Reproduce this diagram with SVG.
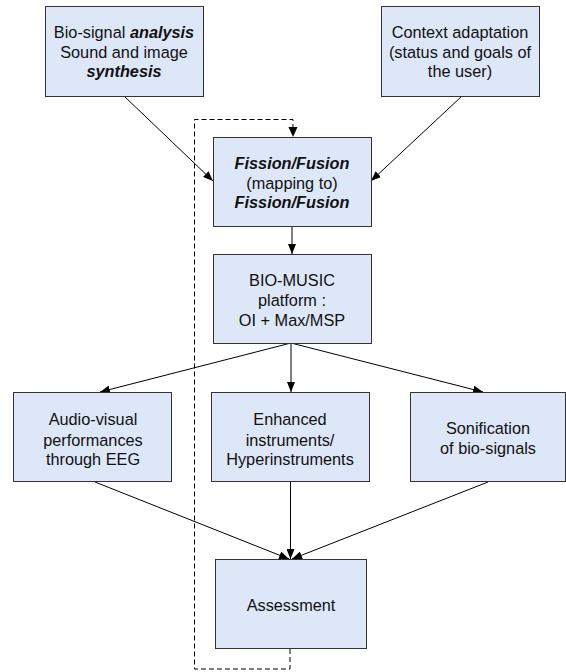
<svg xmlns="http://www.w3.org/2000/svg" width="566" height="672" viewBox="0 0 566 672">
<defs>
<marker id="ah" viewBox="0 0 10 8" refX="10" refY="4" markerWidth="10" markerHeight="8" markerUnits="userSpaceOnUse" orient="auto">
<path d="M0,0 L10,4 L0,8 Z" fill="#000"/>
</marker>
</defs>
<style>
.box{fill:#dde7f8;stroke:#333;stroke-width:1}
.t{font-family:"Liberation Sans",Arial,sans-serif;font-size:16.3px;fill:#111;text-anchor:middle}
.bi{font-weight:bold;font-style:italic}
.c{stroke:#000;stroke-width:1;fill:none;marker-end:url(#ah)}
.d{stroke:#000;stroke-width:1;fill:none;stroke-dasharray:5,3}
</style>
<rect width="566" height="672" fill="#fff"/>
<g id="connectors">
<line class="c" x1="124" y1="96" x2="213" y2="181"/>
<line class="c" x1="462" y1="96" x2="371" y2="181"/>
<line class="c" x1="292" y1="226" x2="292" y2="254"/>
<line class="c" x1="291" y1="343" x2="100" y2="392"/>
<line class="c" x1="291" y1="343" x2="291" y2="392"/>
<line class="c" x1="291" y1="343" x2="483" y2="392"/>
<line class="c" x1="95" y1="482" x2="289" y2="559"/>
<line class="c" x1="290.5" y1="482" x2="290.5" y2="559"/>
<line class="c" x1="488" y1="482" x2="292" y2="559"/>
<polyline class="d" points="290,649 290,669 194.5,669 194.5,119.5 293,119.5 293,130"/>
<path d="M288.5,127 L297.5,127 L293,137 Z" fill="#000"/>
</g>
<g id="n1">
<rect class="box" x="45.5" y="6.5" width="158" height="90"/>
<text class="t" x="124" y="38">Bio-signal <tspan class="bi">analysis</tspan></text>
<text class="t" x="124" y="58">Sound and image</text>
<text class="t" x="124" y="77"><tspan class="bi">synthesis</tspan></text>
</g>
<g id="n2">
<rect class="box" x="381.5" y="6.5" width="158" height="90"/>
<text class="t" x="460" y="38">Context adaptation</text>
<text class="t" x="460" y="58">(status and goals of</text>
<text class="t" x="460" y="77">the user)</text>
</g>
<g id="n3">
<rect class="box" x="213.5" y="137.5" width="158" height="89"/>
<text class="t" x="292" y="169"><tspan class="bi">Fission/Fusion</tspan></text>
<text class="t" x="292" y="189">(mapping to)</text>
<text class="t" x="292" y="208"><tspan class="bi">Fission/Fusion</tspan></text>
</g>
<g id="n4">
<rect class="box" x="213.5" y="254.5" width="158" height="89"/>
<text class="t" x="292" y="286">BIO-MUSIC</text>
<text class="t" x="292" y="306">platform :</text>
<text class="t" x="292" y="326">OI + Max/MSP</text>
</g>
<g id="n5">
<rect class="box" x="13.5" y="392.5" width="158" height="89"/>
<text class="t" x="93" y="425">Audio-visual</text>
<text class="t" x="93" y="446">performances</text>
<text class="t" x="93" y="465">through EEG</text>
</g>
<g id="n6">
<rect class="box" x="211.5" y="392.5" width="158" height="89"/>
<text class="t" x="290" y="425">Enhanced</text>
<text class="t" x="290" y="446">instruments/</text>
<text class="t" x="290" y="465">Hyperinstruments</text>
</g>
<g id="n7">
<rect class="box" x="410.5" y="392.5" width="155" height="89"/>
<text class="t" x="488" y="434">Sonification</text>
<text class="t" x="488" y="454">of bio-signals</text>
</g>
<g id="n8">
<rect class="box" x="215.5" y="559.5" width="151" height="89"/>
<text class="t" x="291" y="611">Assessment</text>
</g>
</svg>
